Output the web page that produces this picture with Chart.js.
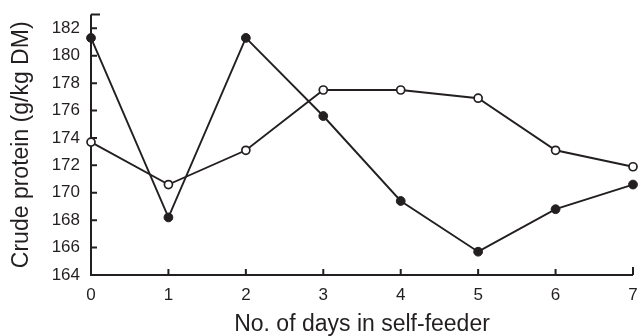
<!DOCTYPE html>
<html>
<head>
<meta charset="utf-8">
<script src="https://cdn.jsdelivr.net/npm/chart.js@4/dist/chart.umd.min.js"></script>
<style>
  html, body { margin: 0; padding: 0; background: #fff; }
  #wrap { width: 640px; height: 336px; position: relative; }
</style>
</head>
<body>
<div id="wrap"><canvas id="chart"></canvas></div>
<script>
// Data
const days = [0, 1, 2, 3, 4, 5, 6, 7]
const filledValues = [181.3, 168.2, 181.3, 175.6, 169.4, 165.7, 168.8, 170.6]
const openValues = [173.7, 170.6, 173.1, 177.5, 177.5, 176.9, 173.1, 171.9]
const yTickValues = [164, 166, 168, 170, 172, 174, 176, 178, 180, 182]
const yMin = 164
const yMax = 183
const xMin = 0
const xMax = 7

const ink = '#231f20'
const fontFamily = '"Liberation Sans", Arial, Helvetica, sans-serif'

function toPoints(values) {
  return days.map((d, i) => ({ x: d, y: values[i] }))
}

// Draws the L-shaped axes with inward tick marks
const axisPlugin = {
  id: 'axisPlugin',
  beforeDatasetsDraw(chart) {
    const ctx = chart.ctx
    const xs = chart.scales.x
    const ys = chart.scales.y
    const left = xs.getPixelForValue(xMin)
    const right = xs.getPixelForValue(xMax)
    const bottom = ys.getPixelForValue(yMin)
    const top = ys.getPixelForValue(yMax)
    const tickLen = 6

    ctx.save()
    ctx.strokeStyle = ink
    ctx.lineWidth = 2
    ctx.beginPath()
    ctx.moveTo(left, top)
    ctx.lineTo(left, bottom)
    ctx.lineTo(right, bottom)
    xs.ticks.forEach((t) => {
      const px = xs.getPixelForValue(t.value)
      const len = t.value === xMax ? tickLen + 2 : tickLen
      ctx.moveTo(px, bottom)
      ctx.lineTo(px, bottom - len)
    })
    ys.ticks.forEach((t) => {
      const py = ys.getPixelForValue(t.value)
      const len = t.value === yMax ? tickLen + 3 : tickLen
      ctx.moveTo(left, py)
      ctx.lineTo(left + len, py)
    })
    ctx.stroke()
    ctx.restore()
  }
}

new Chart(document.getElementById('chart'), {
  type: 'line',
  data: {
    datasets: [
      {
        label: 'Open',
        data: toPoints(openValues),
        borderColor: ink,
        borderWidth: 1.9,
        backgroundColor: '#fff',
        pointBackgroundColor: '#fff',
        pointBorderColor: ink,
        pointBorderWidth: 1.7,
        pointRadius: 4,
        tension: 0,
        clip: false
      },
      {
        label: 'Filled',
        data: toPoints(filledValues),
        borderColor: ink,
        borderWidth: 1.9,
        backgroundColor: ink,
        pointBackgroundColor: ink,
        pointBorderColor: ink,
        pointBorderWidth: 1,
        pointRadius: 4.4,
        tension: 0,
        clip: false
      }
    ]
  },
  options: {
    responsive: true,
    maintainAspectRatio: false,
    animation: false,
    layout: {
      padding: { top: 14.6, right: 7, bottom: 0, left: 0 }
    },
    plugins: {
      legend: { display: false },
      tooltip: { enabled: false }
    },
    scales: {
      x: {
        type: 'linear',
        min: xMin,
        max: xMax,
        grid: { display: false, drawTicks: false },
        border: { display: false },
        ticks: {
          stepSize: 1,
          padding: 10,
          color: ink,
          font: { family: fontFamily, size: 17 }
        },
        title: {
          display: true,
          text: 'No. of days in self-feeder',
          color: ink,
          padding: { top: 0, bottom: 0 },
          font: { family: fontFamily, size: 23, lineHeight: 1 }
        },
        afterFit(scale) {
          scale.height = 61
          scale.paddingLeft = 0
          scale.paddingRight = 0
        }
      },
      y: {
        type: 'linear',
        min: yMin,
        max: yMax,
        grid: { display: false, drawTicks: false },
        border: { display: false },
        afterBuildTicks(scale) {
          scale.ticks = yTickValues.concat([yMax]).map((v) => ({ value: v }))
        },
        ticks: {
          padding: 11,
          color: ink,
          font: { family: fontFamily, size: 17 },
          callback: (value) => (value === yMax ? '' : value)
        },
        title: {
          display: true,
          text: 'Crude protein (g/kg DM)',
          color: ink,
          padding: { top: 10, bottom: 0 },
          font: { family: fontFamily, size: 23, lineHeight: 1 }
        },
        afterFit(scale) {
          scale.width = 91
          scale.paddingTop = 0
          scale.paddingBottom = 0
        }
      }
    }
  },
  plugins: [axisPlugin]
})
</script>
</body>
</html>
